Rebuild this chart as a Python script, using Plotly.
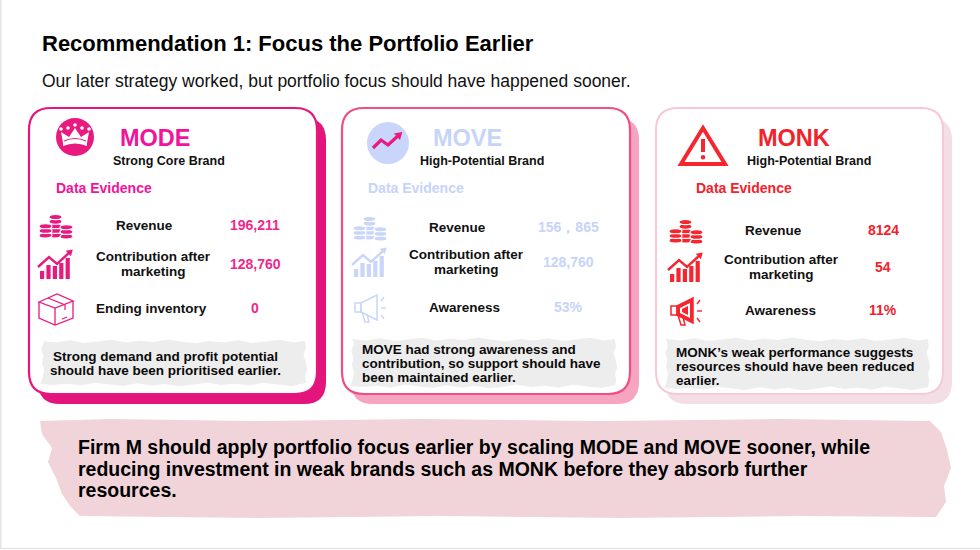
import plotly.graph_objects as go

FONT = "Liberation Sans, Arial, sans-serif"

# slide text
title = "Recommendation 1: Focus the Portfolio Earlier"
subtitle = "Our later strategy worked, but portfolio focus should have happened sooner."

# brand cards
brands = ["MODE", "MOVE", "MONK"]
brand_roles = ["Strong Core Brand", "High-Potential Brand", "High-Potential Brand"]
evidence_heading = "Data Evidence"
metric_labels = [
    [["Revenue"], ["Contribution after", "marketing"], ["Ending inventory"]],
    [["Revenue"], ["Contribution after", "marketing"], ["Awareness"]],
    [["Revenue"], ["Contribution after", "marketing"], ["Awareness"]],
]
metric_values = [
    ["196,211", "128,760", "0"],
    ["156，865", "128,760", "53%"],
    ["8124", "54", "11%"],
]
metric_icons = [
    ["coins", "growth", "box"],
    ["coins", "growth", "megaphone"],
    ["coins", "growth", "megaphone"],
]
takeaways = [
    ["Strong demand and profit potential", "should have been prioritised earlier."],
    ["MOVE had strong awareness and", "contribution, so support should have", "been maintained earlier."],
    ["MONK\u2019s weak performance suggests", "resources should have been reduced", "earlier."],
]
summary = [
    "Firm M should apply portfolio focus earlier by scaling MODE and MOVE sooner, while",
    "reducing investment in weak brands such as MONK before they absorb further",
    "resources.",
]

# positions / colours of each card (pixels, y grows downwards)
card_style = [
    dict(x0=29, x1=317, border="#E5177E", bw=2.2, shadow="#E3157C", accent="#F0149C", value="#EC2A8C",
         icon="#E8197F", brand_x=120, role_x=113, evid_x=56, rows=[225, 264, 308],
         label_x=[144, 153, 151], value_x=255, icon_x=56,
         note_box=(42, 341, 305, 384), note_align="center", note_x=165, note_y=356),
    dict(x0=342, x1=630, border="#F24D84", bw=2.2, shadow="#F7A4C1", accent="#C6D4FA", value="#C6D4FA",
         icon="#C9D6FA", brand_x=433, role_x=420, evid_x=368, rows=[227, 262, 307],
         label_x=[457, 466, 464], value_x=568, icon_x=370,
         note_box=(352, 339, 615, 386), note_align="left", note_x=362, note_y=349),
    dict(x0=656, x1=943, border="#F8C8D4", bw=2.0, shadow="#F2DEE4", accent="#F2222B", value="#F2222B",
         icon="#F5262E", brand_x=758, role_x=747, evid_x=696, rows=[230, 267, 310],
         label_x=[773, 781, 780], value_x=883, icon_x=686,
         note_box=(666, 339, 928, 388), note_align="left", note_x=676, note_y=352),
]
CARD_Y0, CARD_Y1 = 108, 394
JAG = [0.0, 1.4, -0.8, 2.0, 0.5, -1.2, 1.6, -0.3, 1.0, -1.5, 0.7, 2.2]

fig = go.Figure()
fig.add_trace(go.Scatter(x=[0], y=[0], mode="markers", marker=dict(opacity=0), hoverinfo="skip"))

CLEAR = "rgba(0,0,0,0)"


def add_path(path, fill=None, line=None, width=0):
    fig.add_shape(type="path", path=path, xref="x", yref="y", layer="above",
                  fillcolor=fill or CLEAR, line=dict(color=line or CLEAR, width=width))


def add_oval(x0, y0, x1, y1, fill=None, line=None, width=0):
    fig.add_shape(type="circle", x0=x0, y0=y0, x1=x1, y1=y1, xref="x", yref="y", layer="above",
                  fillcolor=fill or CLEAR, line=dict(color=line or CLEAR, width=width))


def poly(pts, close=True):
    s = "M" + " L".join(f"{x:.1f},{y:.1f}" for x, y in pts)
    return s + (" Z" if close else "")


def rounded_rect(x0, y0, x1, y1, r):
    return (f"M{x0 + r},{y0} L{x1 - r},{y0} Q{x1},{y0} {x1},{y0 + r} L{x1},{y1 - r} "
            f"Q{x1},{y1} {x1 - r},{y1} L{x0 + r},{y1} Q{x0},{y1} {x0},{y1 - r} "
            f"L{x0},{y0 + r} Q{x0},{y0} {x0 + r},{y0} Z")


def rough_box(x0, y0, x1, y1, amp=1.0, step=14):
    pts, k = [], 0
    x = x0
    while x < x1:
        pts.append((x, y0 + JAG[k % len(JAG)] * amp)); x += step; k += 1
    y = y0
    while y < y1:
        pts.append((x1 + JAG[k % len(JAG)] * amp, y)); y += step / 2; k += 1
    x = x1
    while x > x0:
        pts.append((x, y1 + JAG[k % len(JAG)] * amp)); x -= step; k += 1
    y = y1
    while y > y0:
        pts.append((x0 + JAG[k % len(JAG)] * amp, y)); y -= step / 2; k += 1
    return poly(pts)


def text(x, y, s, size, color="#111111", anchor="left", bold=True):
    if anchor == "left":
        x -= 2  # annotation box padding
    fig.add_annotation(x=x, y=y, xref="x", yref="y", text=f"<b>{s}</b>" if bold else s,
                       showarrow=False, xanchor=anchor, yanchor="middle",
                       font=dict(family=FONT, size=size, color=color))


def arrow_line(pts, color, width, head=4.0):
    add_path(poly(pts, close=False), line=color, width=width)
    (ax, ay), (bx, by) = pts[-2], pts[-1]
    d = ((bx - ax) ** 2 + (by - ay) ** 2) ** 0.5
    ux, uy = (bx - ax) / d, (by - ay) / d
    px, py = -uy, ux
    tip = (bx + ux * head, by + uy * head)
    base = (bx - ux * head * 0.6, by - uy * head * 0.6)
    add_path(poly([tip, (base[0] + px * head, base[1] + py * head),
                   (base[0] - px * head, base[1] - py * head)]), fill=color)


# ---------- icons ----------
def icon_coins(cx, cy, c):
    def stack(xa, xb, n, bottom):
        for i in range(n):
            yb = bottom - i * 4.6
            add_oval(xa, yb - 5.2, xb, yb, fill=c, line="white", width=1.1)
    stack(cx - 7, cx + 6, 5, cy + 12)
    stack(cx - 17, cx - 4, 3, cy + 12)
    stack(cx + 4, cx + 17, 3, cy + 13)


def icon_growth(cx, cy, c):
    tops = [cy + 6, cy + 0, cy + 1, cy - 2, cy - 7]
    for i, t in enumerate(tops):
        xa = cx - 16 + i * 6.4
        fig.add_shape(type="rect", x0=xa, x1=xa + 4.2, y0=t, y1=cy + 14, xref="x", yref="y",
                      fillcolor=c, line=dict(width=0), layer="above")
    arrow_line([(cx - 18, cy + 2), (cx - 7, cy - 8), (cx + 1, cy - 1), (cx + 14, cy - 13)], c, 2.4, 3.8)


def icon_box(cx, cy, c):
    A, B, C, D = (cx - 17, cy - 7), (cx + 1, cy - 15), (cx + 17, cy - 8), (cx - 1, cy - 1)
    A2, D2, C2 = (cx - 17, cy + 9), (cx - 1, cy + 16), (cx + 17, cy + 9)
    add_path(poly([A, B, C, D]), line=c, width=1.3)
    add_path(poly([A, A2, D2, C2, C], close=False), line=c, width=1.3)
    add_path(poly([D, D2], close=False), line=c, width=1.3)
    add_path(poly([(cx - 8, cy - 11), (cx + 9, cy - 4), (cx + 9, cy + 1)], close=False), line=c, width=1.2)
    add_path(poly([(cx + 6, cy + 10), (cx + 11, cy + 8)], close=False), line=c, width=1.2)


def icon_megaphone(cx, cy, c, filled):
    fig.add_shape(type="rect", x0=cx - 16, x1=cx - 10, y0=cy - 5, y1=cy + 4, xref="x", yref="y",
                  fillcolor="white", line=dict(color=c, width=1.5), layer="above")
    add_path(poly([(cx - 10, cy - 5), (cx + 6, cy - 13), (cx + 6, cy + 12), (cx - 10, cy + 4)]),
             fill=c if filled else None, line=c, width=1.5)
    if filled:
        add_path(poly([(cx - 7, cy - 3), (cx + 3, cy - 8), (cx + 3, cy + 7), (cx - 7, cy + 2)]), fill="white")
        add_path(poly([(cx - 5, cy - 2), (cx + 1, cy - 5), (cx + 1, cy + 4), (cx - 5, cy + 1)]), fill=c)
    add_path(poly([(cx - 9, cy + 4), (cx - 6, cy + 14), (cx - 2, cy + 14), (cx - 4, cy + 6)], close=False),
             line=c, width=1.5)
    for a, b in [((cx + 10, cy - 7), (cx + 13, cy - 11)), ((cx + 10, cy), (cx + 15, cy)),
                 ((cx + 10, cy + 7), (cx + 13, cy + 11))]:
        add_path(poly([a, b], close=False), line=c, width=1.4)


def icon_crown(cx, cy, r, c):
    add_oval(cx - r, cy - r, cx + r, cy + r, fill=c)
    add_path(poly([(cx - 12, cy + 6), (cx - 14, cy - 5), (cx - 6, cy + 0), (cx, cy - 9),
                   (cx + 6, cy + 0), (cx + 14, cy - 5), (cx + 12, cy + 6)]), fill="white")
    add_path(f"M{cx - 12},{cy + 6} Q{cx},{cy + 1} {cx + 12},{cy + 6} L{cx + 12},{cy + 9} "
             f"Q{cx},{cy + 4} {cx - 12},{cy + 9} Z", fill="white")
    add_path(f"M{cx - 11},{cy + 4} Q{cx},{cy - 1} {cx + 11},{cy + 4}", line=c, width=1.2)
    for dx, dy in [(-14, -8), (-7, -9), (0, -12), (7, -9), (14, -8)]:
        add_oval(cx + dx - 1.8, cy + dy - 1.8, cx + dx + 1.8, cy + dy + 1.8, fill="white")


def icon_trend(cx, cy, r, bg, c):
    add_oval(cx - r, cy - r, cx + r, cy + r, fill=bg)
    arrow_line([(cx - 15, cy + 5), (cx - 7, cy - 3), (cx, cy + 2), (cx + 11, cy - 8)], c, 3.2, 4.5)


def icon_warning(cx, cy, c):
    add_path(poly([(cx, cy - 18), (cx - 22, cy + 18), (cx + 22, cy + 18)]), line=c, width=4)
    add_path(poly([(cx, cy - 7), (cx, cy + 6)], close=False), line=c, width=4)
    add_oval(cx - 2.3, cy + 9, cx + 2.3, cy + 13.6, fill=c)


ICONS = {"coins": icon_coins, "growth": icon_growth, "box": icon_box}

# ---------- page ----------
add_path(poly([(0.8, 0), (0.8, 548.5), (980, 548.5)], close=False), line="#E6E6E6", width=1.6)

text(42, 43, title, 22, "#000000")
text(42, 81, subtitle, 17.5, "#111111", bold=False)

for i, st in enumerate(card_style):
    x0, x1 = st["x0"], st["x1"]
    add_path(rounded_rect(x0 + 9, CARD_Y0 + 10, x1 + 9, CARD_Y1 + 10, 22), fill=st["shadow"])
    add_path(rounded_rect(x0, CARD_Y0, x1, CARD_Y1, 22), fill="white", line=st["border"], width=st["bw"])

    if i == 0:
        icon_crown(75, 137, 19, st["icon"])
    elif i == 1:
        icon_trend(388, 143, 21, "#C9D5FB", "#E8197F")
    else:
        icon_warning(703, 146, st["icon"])

    text(st["brand_x"], 138, brands[i], 23.5, st["accent"])
    text(st["role_x"], 161, brand_roles[i], 12.5, "#111111")
    text(st["evid_x"], 188, evidence_heading, 14, st["accent"])

    for j, y in enumerate(st["rows"]):
        kind = metric_icons[i][j]
        if kind == "megaphone":
            icon_megaphone(st["icon_x"] + 1, y + 1, st["icon"], filled=(i == 2))
        else:
            ICONS[kind](st["icon_x"], y + 1, st["icon"])
        lines = metric_labels[i][j]
        off = -(len(lines) - 1) * 7.5
        for k, ln in enumerate(lines):
            text(st["label_x"][j], y + off + k * 15, ln, 13.5, "#111111", anchor="center")
        text(st["value_x"], y, metric_values[i][j], 14, st["value"], anchor="center")

    bx0, by0, bx1, by1 = st["note_box"]
    add_path(rough_box(bx0, by0, bx1, by1, 1.0), fill="#EDEDED")
    for k, ln in enumerate(takeaways[i]):
        text(st["note_x"], st["note_y"] + k * 14, ln, 13.5, "#0A0A0A", anchor=st["note_align"])

# summary banner
banner = [(40, 421), (110, 419), (260, 421), (420, 419), (600, 421), (780, 419), (930, 421),
          (941, 432), (947, 450), (951, 468), (944, 486), (946, 502), (936, 517), (800, 516),
          (620, 518), (440, 516), (260, 518), (80, 516), (70, 506), (62, 494), (56, 478),
          (48, 462), (52, 448), (42, 434)]
add_path(poly(banner), fill="#F0D4DA")
for k, ln in enumerate(summary):
    text(78, 447 + k * 21.5, ln, 19.5, "#000000")

fig.update_layout(
    width=980, height=550, margin=dict(l=0, r=0, t=0, b=0),
    paper_bgcolor="white", plot_bgcolor="white", showlegend=False,
    xaxis=dict(range=[0, 980], visible=False, fixedrange=True),
    yaxis=dict(range=[550, 0], visible=False, fixedrange=True),
)

# drop the browser's default 8px body margin so page pixels match the layout
fig.write_html("out.html", config={"displayModeBar": False},
               post_script="document.body.style.margin='0px';")
